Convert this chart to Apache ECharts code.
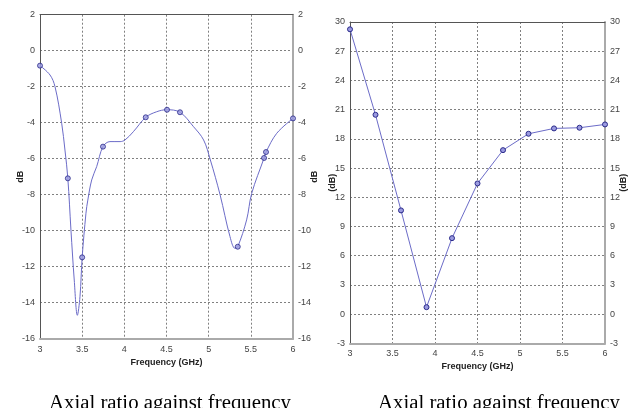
<!DOCTYPE html>
<html>
<head>
<meta charset="utf-8">
<script src="https://cdn.jsdelivr.net/npm/echarts@6/dist/echarts.min.js"></script>
<style>html,body{margin:0;padding:0;background:#fff;}#c{width:637px;height:408px;}</style>
</head>
<body>
<div id="c"></div>
<script>
// Left chart: smooth curve samples
var leftCurveFreq = [3.0,3.119,3.178,3.257,3.296,3.33,3.367,3.406,3.443,3.474,3.5,3.545,3.567,3.613,3.672,3.747,3.83,3.95,4.008,4.107,4.254,4.384,4.5,4.66,4.82,4.94,5.02,5.135,5.253,5.312,5.345,5.45,5.51,5.657,5.68,5.807,6.0];
var leftCurveDb   = [-0.83,-1.35,-2.0,-4.03,-5.52,-7.09,-9.96,-12.74,-14.7,-13.67,-11.48,-9.03,-8.3,-7.18,-6.44,-5.33,-5.05,-5.05,-4.96,-4.5,-3.7,-3.39,-3.28,-3.42,-4.22,-4.96,-6.07,-8.0,-10.33,-10.98,-10.89,-9.4,-7.93,-5.96,-5.63,-4.59,-3.76];
// Left chart: marked points
var leftMarkFreq = [3.0,3.33,3.5,3.747,4.254,4.506,4.66,5.345,5.657,5.68,6.0];
var leftMarkDb   = [-0.83,-7.09,-11.48,-5.33,-3.7,-3.28,-3.42,-10.89,-5.96,-5.63,-3.76];
// Right chart
var rightFreq = [3.0,3.3,3.6,3.9,4.2,4.5,4.8,5.1,5.4,5.7,6.0];
var rightDb   = [29.25,20.47,10.65,0.71,7.8,13.42,16.84,18.52,19.07,19.14,19.48];
// Texts
var xName = 'Frequency (GHz)';
var leftYName = 'dB';
var rightYName = '(dB)';
var caption = 'Axial ratio against frequency';

function zip(a,b){var r=[];for(var i=0;i<a.length;i++)r.push([a[i],b[i]]);return r;}

var lblFont = "'Liberation Sans Narrow','Liberation Sans',Arial,sans-serif";
var lbl = {fontSize:9, color:'#444', fontFamily:lblFont};
var nameStyle = {fontSize:9, color:'#222', fontWeight:'bold', fontFamily:lblFont};
var gridLine = {show:true, lineStyle:{color:'#808080', type:[2,2], width:1}};
var darkLine = {show:true, onZero:false, lineStyle:{color:'#555', width:1}};
var greyLine = {show:true, onZero:false, lineStyle:{color:'#aaa', width:2}};
var lineColor = '#6c6cc8';
var markStyle = {color:'#9a9ae0', borderColor:'#2a2a8a', borderWidth:1};

function xAxes(gi){
  return [
    {type:'value', gridIndex:gi, min:3, max:6, interval:0.5, position:'bottom',
     axisLine:greyLine, axisTick:{show:false}, splitLine:gridLine,
     axisLabel:Object.assign({margin:6}, lbl),
     name:xName, nameLocation:'middle', nameGap:19, nameMoveOverlap:false, nameTextStyle:nameStyle},
    {type:'value', gridIndex:gi, min:3, max:6, interval:0.5, position:'top',
     axisLine:darkLine, axisTick:{show:false}, splitLine:{show:false}, axisLabel:{show:false}}
  ];
}
function yAxes(gi,min,max,iv,nm,gapL,gapR){
  return [
    {type:'value', gridIndex:gi, min:min, max:max, interval:iv, position:'left',
     axisLine:darkLine, axisTick:{show:false}, splitLine:gridLine,
     axisLabel:Object.assign({margin:5}, lbl),
     name:nm, nameLocation:'middle', nameGap:gapL, nameRotate:90, nameMoveOverlap:false, nameTextStyle:nameStyle},
    {type:'value', gridIndex:gi, min:min, max:max, interval:iv, position:'right',
     axisLine:greyLine, axisTick:{show:false}, splitLine:{show:false},
     axisLabel:Object.assign({margin:5}, lbl),
     name:nm, nameLocation:'middle', nameGap:gapR, nameRotate:90, nameMoveOverlap:false, nameTextStyle:nameStyle}
  ];
}

var chart = echarts.init(document.getElementById('c'), null, {renderer:'canvas'});
chart.setOption({
  animation:false,
  backgroundColor:'#fff',
  grid:[
    {left:40, right:344, top:14.7, bottom:69.3, containLabel:false},
    {left:350, right:32, top:22, bottom:64.7, containLabel:false}
  ],
  xAxis: xAxes(0).concat(xAxes(1)),
  yAxis: yAxes(0,-16,2,2,leftYName,15,17).concat(yAxes(1,-3,30,3,rightYName,13,14)),
  series:[
    {type:'line', xAxisIndex:0, yAxisIndex:0, data:zip(leftCurveFreq,leftCurveDb), smooth:0.35,
     showSymbol:false, lineStyle:{color:lineColor, width:1}, z:2},
    {type:'scatter', xAxisIndex:0, yAxisIndex:0, data:zip(leftMarkFreq,leftMarkDb), symbol:'circle', symbolSize:5,
     itemStyle:markStyle, z:3},
    {type:'line', xAxisIndex:2, yAxisIndex:2, data:zip(rightFreq,rightDb), smooth:false,
     symbol:'circle', symbolSize:5, showSymbol:true, lineStyle:{color:lineColor, width:1}, itemStyle:markStyle, z:3}
  ],
  graphic:[
    {type:'text', x:170, y:393, style:{text:caption, font:"20.8px 'Liberation Serif', 'Times New Roman', serif", fill:'#000', align:'center', verticalAlign:'top'}},
    {type:'text', x:499, y:393, style:{text:caption, font:"20.8px 'Liberation Serif', 'Times New Roman', serif", fill:'#000', align:'center', verticalAlign:'top'}}
  ]
});
</script>
</body>
</html>
